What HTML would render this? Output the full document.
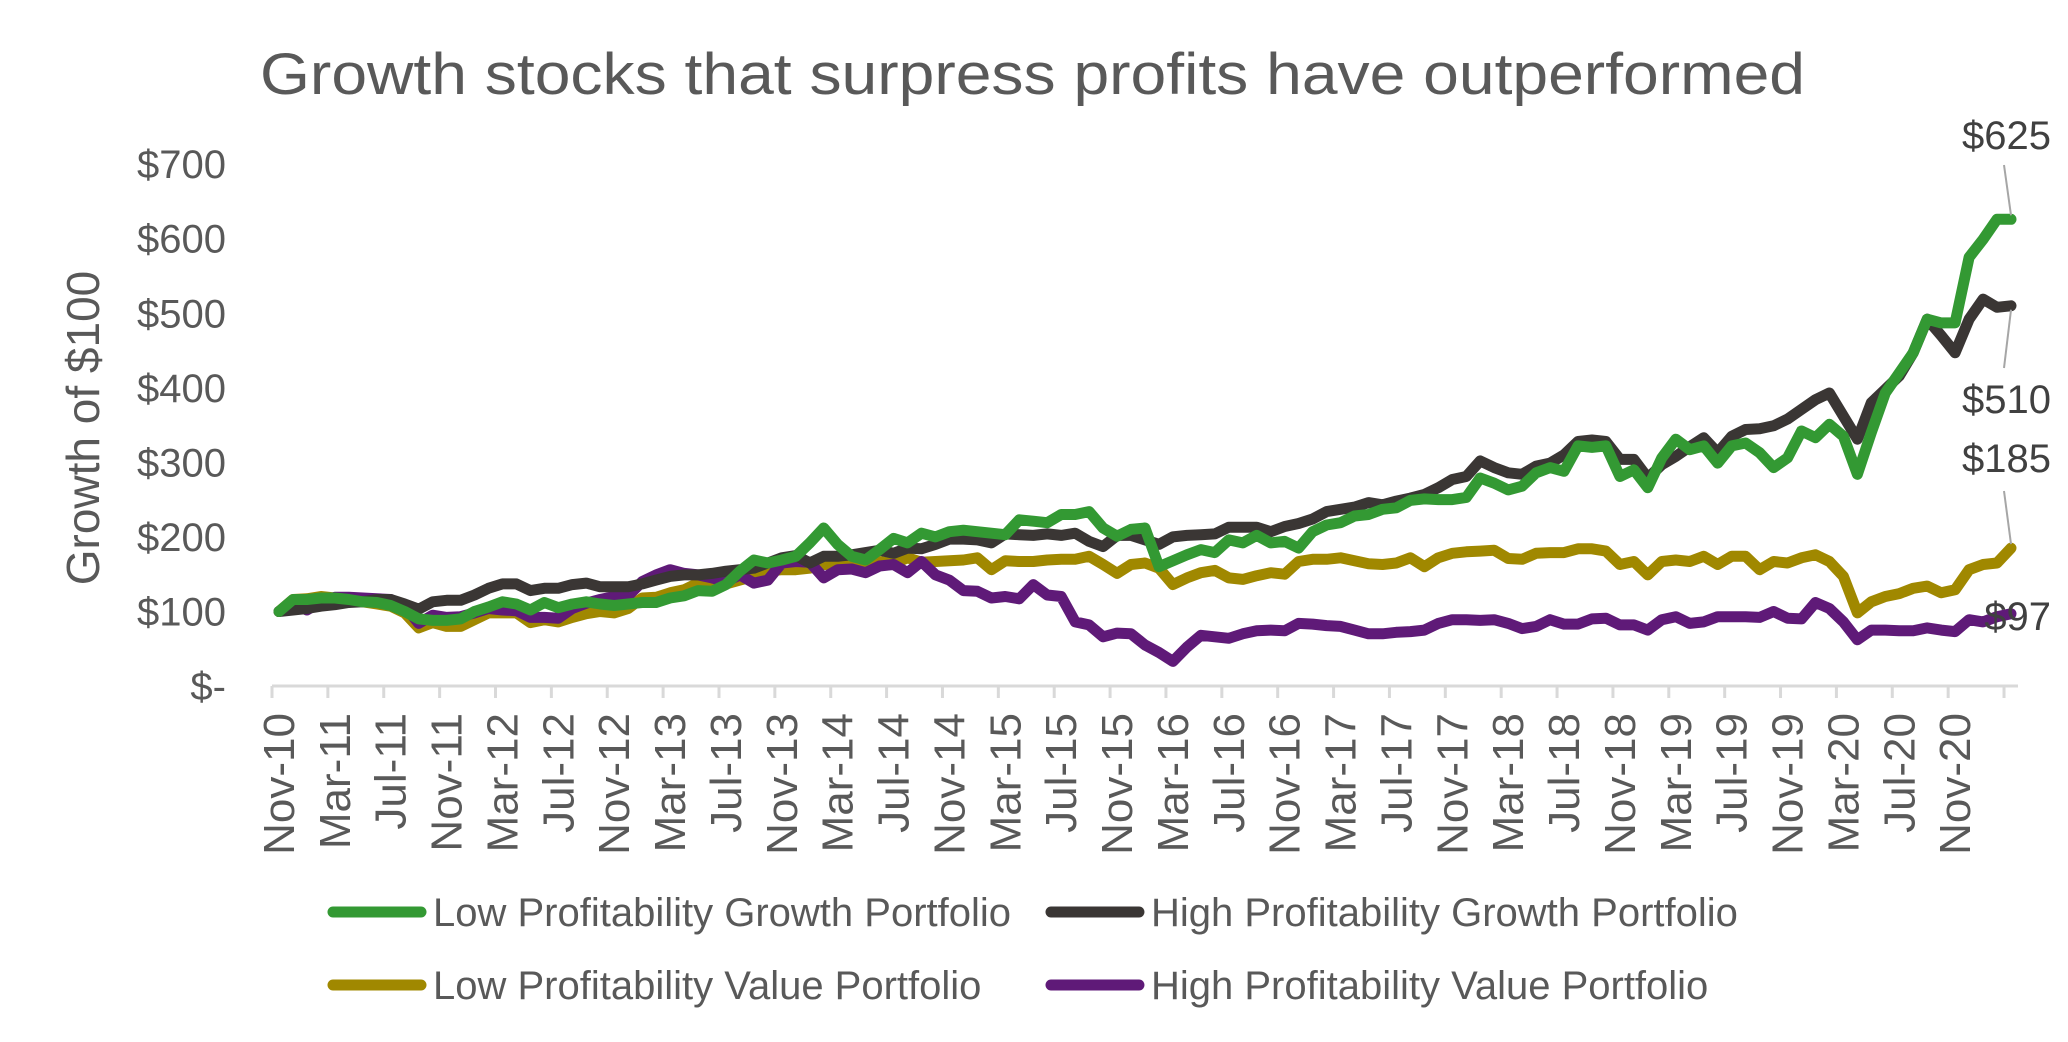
<!DOCTYPE html>
<html><head><meta charset="utf-8">
<style>
html,body{margin:0;padding:0;background:#fff;}
svg{display:block;font-family:"Liberation Sans",Arial,sans-serif;}
</style></head>
<body>
<svg id="chart" width="2068" height="1042" viewBox="0 0 2068 1042" xmlns="http://www.w3.org/2000/svg">
  <text x="260" y="94" font-size="58" fill="#595959" textLength="1545" lengthAdjust="spacingAndGlyphs">Growth stocks that surpress profits have outperformed</text>
  <text transform="translate(99,428) rotate(-90)" text-anchor="middle" font-size="46" fill="#595959">Growth of $100</text>
  <g id="yaxis"></g>
  <g id="xaxis"></g>
  <g id="series"></g>
  <g id="annot"></g>
  <g id="legend"></g>
</svg>
<script>
const yTicks = [0,100,200,300,400,500,600,700];
const yTickLabels = ["$-","$100","$200","$300","$400","$500","$600","$700"];
const monthNames = ["Nov","Dec","Jan","Feb","Mar","Apr","May","Jun","Jul","Aug","Sep","Oct"];
const startYear = 10;
const lowGrowth = [100,116,116,118,118,116,113,112,108,100,90,88,88,90,100,106,113,110,102,112,105,110,113,110,108,110,112,112,118,121,128,127,
136,154,169,165,169,174,192,212,190,174,169,183,198,192,205,200,207,209,207,205,203,223,221,219,230,230,234,212,201,210,212,
160,168,176,183,179,196,192,202,192,194,185,207,216,219,228,230,237,239,249,251,250,250,253,279,272,263,268,286,293,288,322,320,
322,281,290,266,306,331,317,322,299,322,326,313,293,306,342,333,351,335,284,340,393,420,447,492,487,487,575,599,626,626];
const highGrowth = [100,102,104,107,109,112,113,116,116,110,103,113,115,115,122,131,137,137,128,131,131,136,138,133,133,133,137,142,147,149,149,151,
154,156,158,165,172,175,165,174,174,176,179,182,178,185,184,190,197,197,196,192,204,203,202,204,202,205,194,187,202,202,196,
190,200,202,203,204,213,213,213,207,214,218,224,234,237,240,246,243,248,252,257,266,277,281,302,293,286,284,295,299,310,328,330,
328,304,304,279,297,308,321,333,313,335,344,345,349,358,371,384,393,362,331,380,398,416,447,492,470,447,492,519,508,510];
const lowValue = [100,116,117,120,118,116,113,110,107,98,78,85,80,80,89,98,98,98,85,89,86,92,97,100,98,104,118,119,125,129,138,130,
137,142,147,154,156,156,158,163,163,163,165,167,164,172,166,167,168,169,172,156,168,167,167,169,170,170,174,163,151,163,165,
158,136,145,152,155,145,143,148,152,150,167,170,170,172,168,164,163,165,172,160,172,178,180,181,182,171,170,178,179,179,184,184,
181,163,167,149,167,169,167,174,163,174,174,156,167,165,172,176,167,147,98,113,120,124,131,134,125,129,156,163,165,185];
const highValue = [100,112,102,113,119,119,118,117,116,107,84,95,92,93,98,104,102,101,92,92,91,104,111,116,120,121,140,149,156,151,149,145,
140,149,138,142,165,167,166,145,156,157,152,161,163,152,167,149,142,128,127,118,120,117,136,122,120,86,82,66,71,70,55,
45,33,52,68,66,64,70,74,75,74,84,83,81,80,75,70,70,72,73,75,84,89,89,88,89,84,77,80,89,83,83,90,
91,82,82,75,89,93,84,86,93,93,93,92,100,91,90,112,104,86,62,75,75,74,74,78,75,73,89,86,93,97];
const seriesNames = ["Low Profitability Growth Portfolio","High Profitability Growth Portfolio","Low Profitability Value Portfolio","High Profitability Value Portfolio"];
const endLabels = ["$625","$510","$185","$97"];

const NS="http://www.w3.org/2000/svg";
const X0=272, X1=2018, Y0=686, PER100=74.55;
const N=lowGrowth.length;
const step=(X1-X0)/N;
function xScale(i){return X0+(i+0.5)*step;}
function yScale(v){return Y0-v*PER100/100;}
function mk(tag,attrs,parent){const e=document.createElementNS(NS,tag);for(const k in attrs)e.setAttribute(k,attrs[k]);parent.appendChild(e);return e;}

const ya=document.getElementById('yaxis');
yTicks.forEach((v,k)=>{
  const t=mk('text',{x:226,y:yScale(v)+14,'text-anchor':'end','font-size':40,fill:'#595959'},ya);
  
  
  t.textContent=yTickLabels[k];
});

const xa=document.getElementById('xaxis');
const ax=mk('line',{x1:X0,y1:Y0,x2:X1,y2:Y0,stroke:'#d9d9d9','stroke-width':3},xa);


for(let i=0;i<=N;i+=4){
  const tx=X0+i*step;
  const tk=mk('line',{x1:tx,y1:Y0,x2:tx,y2:Y0+12,stroke:'#d9d9d9','stroke-width':3},xa);
  
  
  if(i<N-4){
    const m=i%12, yr=startYear+Math.floor((i+10)/12);
    const cx=xScale(i)+15;
    const t=mk('text',{transform:`translate(${cx},713) rotate(-90)`,'text-anchor':'end','font-size':44,fill:'#595959'},xa);
    
    
    t.textContent=monthNames[m]+'-'+yr;
  }
}

const colors=['#339933','#3a3634','#a08800','#5f1a78'];
const order=[2,3,1,0];
const sg=document.getElementById('series');
order.forEach(s=>{
  const d=[lowGrowth,highGrowth,lowValue,highValue][s];
  const pts=d.map((v,i)=>xScale(i).toFixed(1)+','+yScale(v).toFixed(1)).join(' ');
  const pl=mk('polyline',{points:pts,fill:'none',stroke:colors[s],'stroke-width':11,'stroke-linejoin':'round','stroke-linecap':'round'},sg);
  
  
});

const an=document.getElementById('annot');
const lastX=xScale(N-1);
const ends=[lowGrowth[N-1],highGrowth[N-1],lowValue[N-1],highValue[N-1]];
const labelPos=[[2051,149,'end'],[2051,413,'end'],[2051,472,'end'],[2051,630,'end']];
const leader=[[2004,165,-1],[2004,368,1],[2004,491,-1]];
ends.forEach((v,k)=>{
  if(k<3){
    const [lx,ly,dir]=leader[k];
    const l=mk('line',{x1:lx,y1:ly,x2:lastX,y2:yScale(v)+dir*4,stroke:'#a6a6a6','stroke-width':2},an);
    
    
  }
  const t=mk('text',{x:labelPos[k][0],y:labelPos[k][1],'text-anchor':labelPos[k][2],'font-size':40,fill:'#404040'},an);
  
  
  t.textContent=endLabels[k];
});

const lg=document.getElementById('legend');
const legPos=[[328,912],[1046,912],[328,985],[1046,985]];
seriesNames.forEach((nm,k)=>{
  const [lx,ly]=legPos[k];
  const g=mk('g',{},lg);
  
  
  mk('line',{x1:lx+5,y1:ly,x2:lx+93,y2:ly,stroke:colors[k],'stroke-width':11,'stroke-linecap':'round'},g);
  const t=mk('text',{x:lx+105,y:ly+14,'font-size':40,fill:'#595959'},g);
  t.textContent=nm;
});
</script>
</body></html>
